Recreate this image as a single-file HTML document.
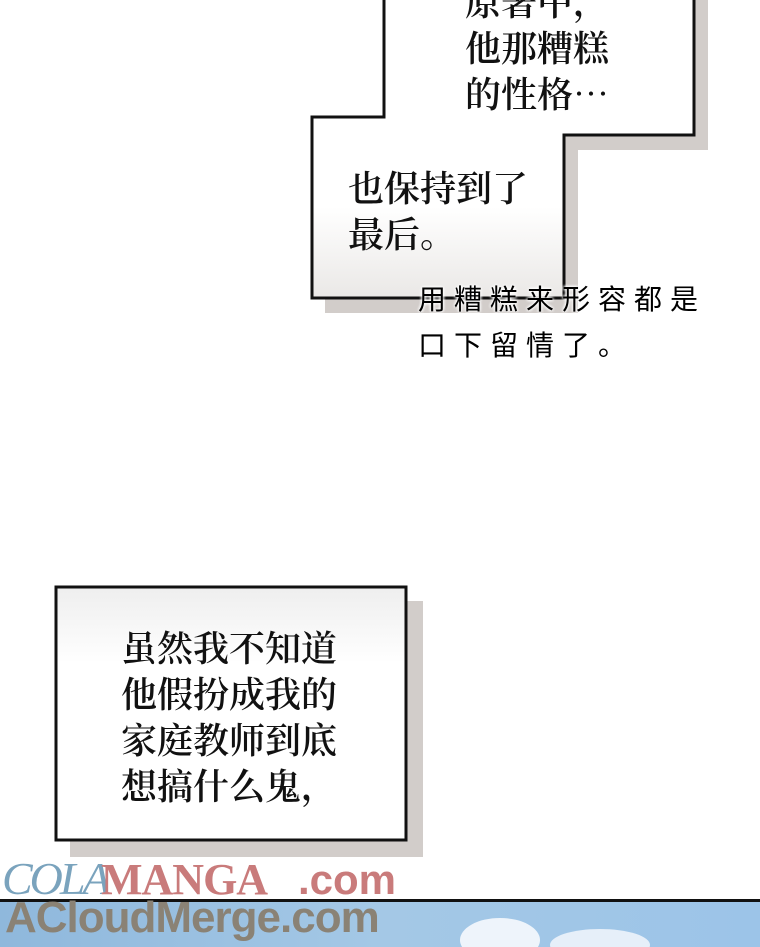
<!DOCTYPE html>
<html><head><meta charset="utf-8"><style>
body{margin:0;width:760px;height:947px;overflow:hidden;background:#fff;position:relative;font-family:"Liberation Serif","Noto Serif CJK SC",serif}
.t{position:absolute;font-size:36px;line-height:46px;color:#111;font-family:"Noto Serif CJK SC","Noto Sans CJK SC",serif;font-weight:600;white-space:nowrap}
.h{position:absolute;font-size:28px;color:#000;font-family:"Noto Sans CJK SC",sans-serif;letter-spacing:8px;line-height:40px;white-space:nowrap;text-shadow:0 0 3px #fff,0 0 3px #fff,0 0 3px #fff}
</style></head><body>
<svg width="760" height="947" style="position:absolute;left:0;top:0">
<defs><linearGradient id="g" x1="0" y1="0" x2="0" y2="1"><stop offset="0" stop-color="#fff"/><stop offset="0.7" stop-color="#fff"/><stop offset="1" stop-color="#eae8e6"/></linearGradient>
<linearGradient id="g2" x1="0" y1="0" x2="0" y2="1"><stop offset="0" stop-color="#eeeeee"/><stop offset="0.3" stop-color="#fff"/><stop offset="1" stop-color="#fff"/></linearGradient>
<linearGradient id="sky" x1="0" y1="0" x2="1" y2="0"><stop offset="0" stop-color="#8fb8dc"/><stop offset="0.5" stop-color="#a4c8e6"/><stop offset="1" stop-color="#9cc4e8"/></linearGradient></defs>
<polygon points="398,0 708,0 708,150 578,150 578,313 325,313 325,131 398,131" fill="#d2cdca"/>
<polygon points="384,-5 694,-5 694,135 564,135 564,298 312,298 312,117 384,117" fill="url(#g)" stroke="#111" stroke-width="3"/>
<rect x="70" y="601" width="353" height="256" fill="#d2cdca"/>
<rect x="56" y="587" width="350" height="253" fill="url(#g2)" stroke="#111" stroke-width="3"/>
<rect x="0" y="900" width="760" height="47" fill="url(#sky)"/>
<rect x="0" y="899" width="760" height="3" fill="#111"/>
<ellipse cx="500" cy="940" rx="40" ry="22" fill="#eef4fb"/>
<ellipse cx="600" cy="945" rx="50" ry="16" fill="#e6eff9"/>
</svg>
<div class="t" style="left:465px;top:-22px">原著中，<br>他那糟糕<br>的性格…</div>
<div class="t" style="left:348px;top:164px">也保持到了<br>最后。</div>
<div class="h" style="left:418px;top:278px">用糟糕来形容都是</div>
<div class="h" style="left:418px;top:324px">口下留情了。</div>
<div class="t" style="left:121px;top:624px;line-height:46px">虽然我不知道<br>他假扮成我的<br>家庭教师到底<br>想搞什么鬼，</div>
<div style="position:absolute;left:2px;top:852px;font-size:46px;font-style:italic;color:#7aa3bd;font-family:'Liberation Serif',serif;letter-spacing:-3px">COLA</div>
<div style="position:absolute;left:101px;top:854px;font-size:44px;font-weight:bold;color:#c97b7b;font-family:'Liberation Serif',serif;letter-spacing:-1px">MANGA</div>
<div style="position:absolute;left:298px;top:856px;font-size:42px;font-weight:bold;color:#c97b7b;font-family:'Liberation Sans',sans-serif">.com</div>
<div style="position:absolute;left:5px;top:893px;font-size:44px;font-weight:bold;color:#8a8275;font-family:'Liberation Sans',sans-serif;letter-spacing:-1px">ACloudMerge.com</div>
</body></html>
